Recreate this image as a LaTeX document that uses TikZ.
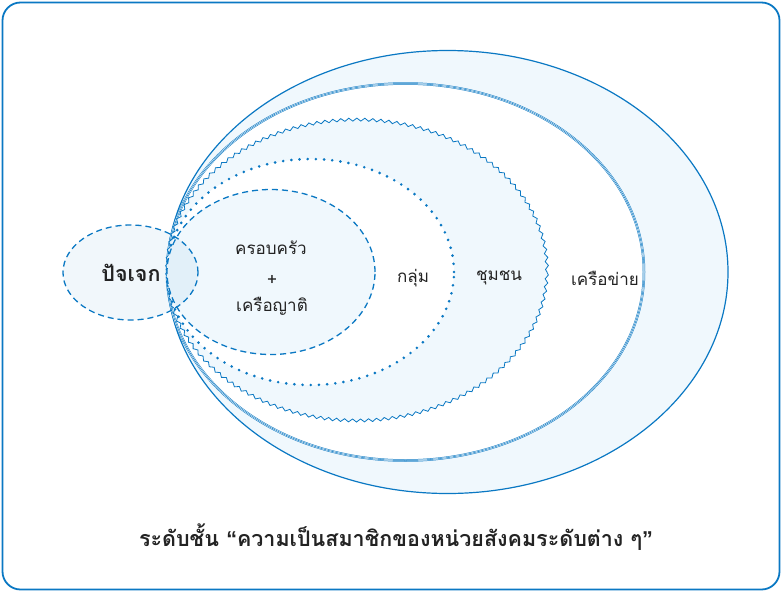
\documentclass[tikz,border=0pt]{standalone}
\usepackage{fontspec}
\newfontfamily\thai[Script=Thai]{Loma}
\newfontfamily\quotefont{Liberation Sans}
\usetikzlibrary{shapes.geometric,decorations.pathmorphing}
\definecolor{lineblue}{RGB}{10,120,195}
\definecolor{lightfill}{RGB}{240,248,253}
\definecolor{textgray}{RGB}{35,35,35}
\tikzset{
  ell/.style={ellipse, inner sep=0pt, outer sep=0pt},
  lbl/.style={font=\thai\fontsize{17}{20}\selectfont, text=textgray, inner sep=0pt},
  biglbl/.style={font=\thai\bfseries\fontsize{21.5}{24}\selectfont, text=textgray, inner sep=0pt},
}
\begin{document}
\begin{tikzpicture}[x=1pt,y=-1pt]
\useasboundingbox (0,0) rectangle (782,592);
\node[draw=lineblue, line width=1.8pt, rounded corners=18pt, minimum width=777pt, minimum height=587pt, inner sep=0pt] (frame) at (391,296) {};
% outer network ellipse
\node[ell, minimum width=561pt, minimum height=443pt, fill=lightfill, draw=lineblue, line width=1.2pt] (network) at (447.5,272) {};
% triple-line ellipse
\node[ell, minimum width=477pt, minimum height=377pt, fill=white, draw=lineblue, line width=0.5pt, double=white, double distance=1.5pt] (networkin) at (405.5,272) {};
\node[ell, minimum width=477pt, minimum height=377pt, draw=lineblue, line width=0.5pt] (networkmid) at (405.5,272) {};
% wavy community
\node[ell, minimum width=380pt, minimum height=301pt, fill=lightfill, draw=lineblue, line width=0.8pt, decorate, decoration={snake, amplitude=1.5pt, segment length=8pt}] (community) at (357,272) {};
% dotted group
\node[ell, minimum width=287pt, minimum height=226pt, fill=white, draw=lineblue, line width=2.9pt, line cap=round, dash pattern=on 0pt off 8.2pt] (group) at (310.5,272) {};
% dashed family
\node[ell, minimum width=208pt, minimum height=165pt, fill=lightfill, draw=lineblue, line width=1.3pt, dash pattern=on 6pt off 4pt] (family) at (271,272) {};
% individual
\node[ell, minimum width=135pt, minimum height=95pt, fill=lineblue, fill opacity=0.06, draw=lineblue, draw opacity=1, line width=1.3pt, dash pattern=on 6pt off 4pt] (indiv) at (130.5,272.5) {};

\node[biglbl] (tindiv) at (131,273) {ปัจเจก};
\node[lbl] (tfam1) at (271,248) {ครอบครัว};
\node[lbl] (tplus) at (272,280) {+};
\node[lbl] (tfam2) at (272,306) {เครือญาติ};
\node[lbl] (tgroup) at (413,278) {กลุ่ม};
\node[lbl] (tcomm) at (499,278) {ชุมชน};
\node[lbl] (tnet) at (605,278) {เครือข่าย};
\node[biglbl] (title) at (396,537) {ระดับชั้น {\quotefont\bfseries “}ความเป็นสมาชิกของหน่วยสังคมระดับต่าง ๆ{\quotefont\bfseries ”}};
\end{tikzpicture}
\end{document}
